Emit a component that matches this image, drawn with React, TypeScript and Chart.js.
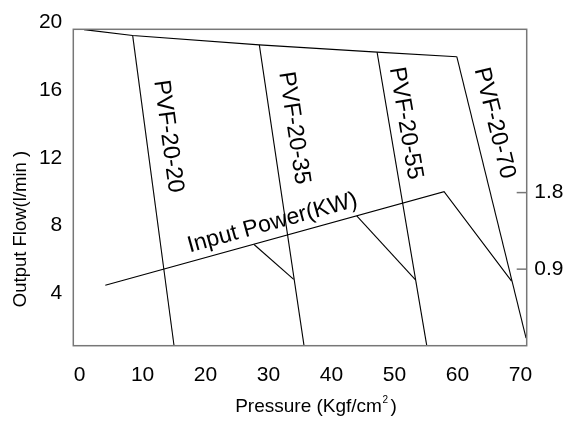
import React, { useEffect, useRef } from 'react';
import { Chart, registerables } from 'chart.js';

Chart.register(...registerables);

const FONT = '"Liberation Sans", Arial, Helvetica, sans-serif';

// ---- axis definitions ----
const pressureTicks = [0, 10, 20, 30, 40, 50, 60, 70];
const flowTicks = [4, 8, 12, 16, 20];
const powerTicks = [0.9, 1.8];
const pressureRange = [-1, 71];
const flowRange = [0.9, 19.6];
const powerRange = [0, 3.72];

// ---- series (pressure Kgf/cm2, flow l/min) ----
const maxFlowLine = [
  { x: 0.7, y: 19.58 },
  { x: 8.43, y: 19.23 },
  { x: 28.54, y: 18.68 },
  { x: 47.24, y: 18.25 },
  { x: 59.9, y: 17.98 },
];
const pvf2020 = [
  { x: 8.43, y: 19.23 },
  { x: 15.0, y: 0.9 },
];
const pvf2035 = [
  { x: 28.54, y: 18.68 },
  { x: 35.64, y: 0.9 },
];
const pvf2055 = [
  { x: 47.24, y: 18.25 },
  { x: 55.13, y: 0.9 },
];
const pvf2070 = [
  { x: 59.9, y: 17.98 },
  { x: 70.9, y: 1.35 },
];

// ---- input power (pressure Kgf/cm2, KW) ----
const powerMain = [
  { x: 4.08, y: 0.71 },
  { x: 57.88, y: 1.81 },
  { x: 68.6, y: 0.76 },
];
const power35 = [
  { x: 27.7, y: 1.19 },
  { x: 34.0, y: 0.78 },
];
const power55 = [
  { x: 44.01, y: 1.525 },
  { x: 53.38, y: 0.77 },
];

const pumpNames = ['PVF-20-20', 'PVF-20-35', 'PVF-20-55', 'PVF-20-70'];
const pumpSeries = [pvf2020, pvf2035, pvf2055, pvf2070];
const powerLabel = 'Input Power(KW)';
const xTitleMain = 'Pressure (Kgf/cm';
const xTitleSup = '2';
const xTitleEnd = ')';
const yTitle = 'Output Flow(l/min )';

// label anchors (in data units of the respective axes)
const annotations = {
  pumps: [
    { x: 14.07, y: 13.27 },
    { x: 34.05, y: 13.77 },
    { x: 51.76, y: 14.05 },
    { x: 65.87, y: 14.05 },
  ],
  power: { x: 30.64, y: 1.442 },
};

const overlayPlugin = {
  id: 'overlay',
  afterDraw(chart: any) {
    const { ctx, chartArea: a, scales } = chart;
    const sx = scales.x;
    const sf = scales.y;
    const sp = scales.y2;
    ctx.save();
    // frame
    ctx.strokeStyle = '#777';
    ctx.lineWidth = 1.5;
    ctx.strokeRect(a.left, a.top, a.right - a.left, a.bottom - a.top);
    // inner tick marks of the power axis
    powerTicks.forEach((v) => {
      const py = sp.getPixelForValue(v);
      ctx.beginPath();
      ctx.moveTo(a.right - 10, py);
      ctx.lineTo(a.right, py);
      ctx.stroke();
    });

    ctx.fillStyle = '#000';
    ctx.textAlign = 'center';
    ctx.textBaseline = 'middle';

    // pump labels along the lines
    ctx.font = `23.5px ${FONT}`;
    pumpSeries.forEach((line, i) => {
      const p0 = line[0];
      const p1 = line[line.length - 1];
      const ang = Math.atan2(
        sf.getPixelForValue(p1.y) - sf.getPixelForValue(p0.y),
        sx.getPixelForValue(p1.x) - sx.getPixelForValue(p0.x)
      );
      const pos = annotations.pumps[i];
      ctx.save();
      ctx.translate(sx.getPixelForValue(pos.x), sf.getPixelForValue(pos.y));
      ctx.rotate(ang);
      ctx.fillText(pumpNames[i], 0, 0);
      ctx.restore();
    });

    // power label
    {
      const p0 = powerMain[0];
      const p1 = powerMain[1];
      const ang = Math.atan2(
        sp.getPixelForValue(p1.y) - sp.getPixelForValue(p0.y),
        sx.getPixelForValue(p1.x) - sx.getPixelForValue(p0.x)
      );
      ctx.font = `23px ${FONT}`;
      ctx.save();
      ctx.translate(sx.getPixelForValue(annotations.power.x), sp.getPixelForValue(annotations.power.y));
      ctx.rotate(ang);
      ctx.fillText(powerLabel, 0, 0);
      ctx.restore();
    }

    // x axis title with superscript
    {
      const cx = 316;
      const cy = 405;
      ctx.textAlign = 'left';
      ctx.textBaseline = 'alphabetic';
      ctx.font = `19px ${FONT}`;
      const wMain = ctx.measureText(xTitleMain).width;
      const wEnd = ctx.measureText(xTitleEnd).width;
      ctx.font = `10px ${FONT}`;
      const wSup = ctx.measureText(xTitleSup).width;
      const gap = 3;
      const total = wMain + wSup + gap + wEnd;
      let x0 = cx - total / 2;
      const base = cy + 7;
      ctx.font = `19px ${FONT}`;
      ctx.fillText(xTitleMain, x0, base);
      x0 += wMain;
      ctx.font = `10px ${FONT}`;
      ctx.fillText(xTitleSup, x0 + 0.5, base - 9);
      x0 += wSup + gap;
      ctx.font = `19px ${FONT}`;
      ctx.fillText(xTitleEnd, x0, base);
    }

    // y axis title
    ctx.textAlign = 'center';
    ctx.textBaseline = 'middle';
    ctx.font = `18.5px ${FONT}`;
    ctx.save();
    ctx.translate(21, 229);
    ctx.rotate(-Math.PI / 2);
    ctx.fillText(yTitle, 0, 0);
    ctx.restore();

    ctx.restore();
  },
};

const lineDs = (data: any[], axis: string) => ({
  data,
  yAxisID: axis,
  showLine: true,
  borderColor: '#000',
  borderWidth: 1.1,
  pointRadius: 0,
  fill: false,
  tension: 0,
});

export default function App() {
  const ref = useRef<HTMLCanvasElement | null>(null);
  useEffect(() => {
    if (!ref.current) return;
    const tickFont = { family: FONT, size: 21 };
    const chart = new Chart(ref.current, {
      type: 'scatter',
      data: {
        datasets: [
          lineDs(maxFlowLine, 'y'),
          ...pumpSeries.map((s) => lineDs(s, 'y')),
          lineDs(powerMain, 'y2'),
          lineDs(power35, 'y2'),
          lineDs(power55, 'y2'),
        ],
      },
      options: {
        animation: false,
        responsive: false,
        maintainAspectRatio: false,
        devicePixelRatio: 1,
        layout: { padding: { top: 29.3, left: 0, right: 0, bottom: 0 } },
        plugins: {
          legend: { display: false },
          tooltip: { enabled: false },
          title: { display: false },
        },
        scales: {
          x: {
            type: 'linear',
            position: 'bottom',
            min: pressureRange[0],
            max: pressureRange[1],
            afterBuildTicks: (s: any) => {
              s.ticks = pressureTicks.map((v) => ({ value: v }));
            },
            afterFit: (s: any) => {
              s.height = 75.3;
            },
            grid: { display: false, drawTicks: false },
            border: { display: false },
            ticks: { font: tickFont, color: '#000', padding: 17, maxRotation: 0, autoSkip: false },
          },
          y: {
            type: 'linear',
            position: 'left',
            min: flowRange[0],
            max: flowRange[1],
            afterBuildTicks: (s: any) => {
              s.ticks = flowTicks.map((v) => ({ value: v }));
            },
            afterFit: (s: any) => {
              s.width = 73.3;
            },
            grid: { display: false, drawTicks: false },
            border: { display: false },
            ticks: { font: tickFont, color: '#000', padding: 11, autoSkip: false },
          },
          y2: {
            type: 'linear',
            position: 'right',
            min: powerRange[0],
            max: powerRange[1],
            afterBuildTicks: (s: any) => {
              s.ticks = powerTicks.map((v) => ({ value: v }));
            },
            afterFit: (s: any) => {
              s.width = 48.3;
            },
            grid: { display: false, drawTicks: false },
            border: { display: false },
            ticks: { font: tickFont, color: '#000', padding: 7.5, autoSkip: false },
          },
        },
      },
      plugins: [overlayPlugin],
    } as any);
    return () => chart.destroy();
  }, []);
  return (
    <div style={{ position: 'absolute', left: 0, top: 0, width: 575, height: 421, background: '#fff' }}>
      <canvas ref={ref} width={575} height={421} style={{ display: 'block' }} />
    </div>
  );
}
